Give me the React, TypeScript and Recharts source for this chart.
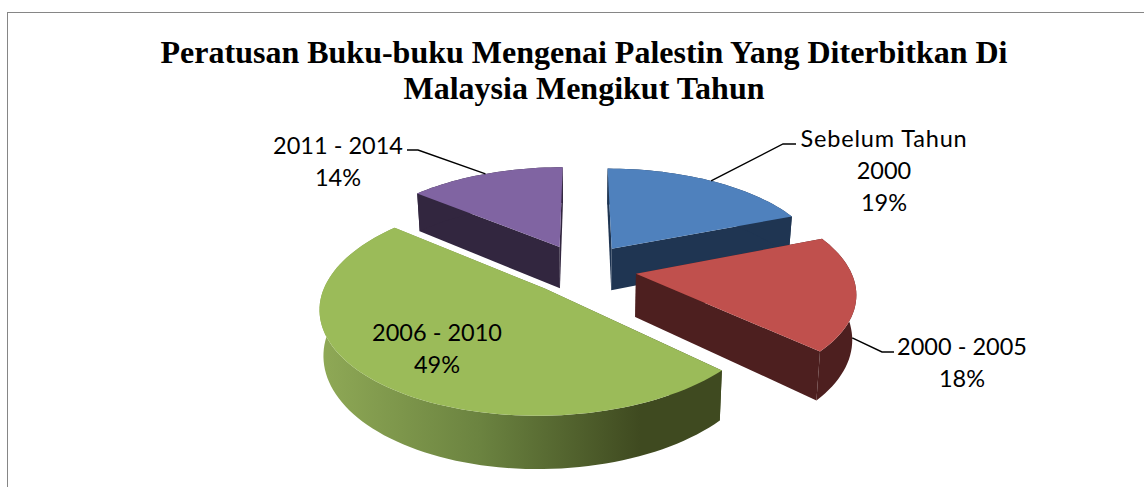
import React from "react";
import { PieChart, Pie } from "recharts";

const categories = ["Sebelum Tahun 2000", "2000 - 2005", "2006 - 2010", "2011 - 2014"];
const values = [19, 18, 49, 14];
const labelLines = [
  ["Sebelum Tahun", "2000", "19%"],
  ["2000 - 2005", "18%"],
  ["2006 - 2010", "49%"],
  ["2011 - 2014", "14%"],
];
const titleLines = [
  "Peratusan Buku-buku Mengenai Palestin Yang Diterbitkan Di",
  "Malaysia Mengikut Tahun",
];
const topColors = ["#4f81bd", "#c0504d", "#9bbb59", "#8064a2"];
const wallColors = ["#1f3552", "#4d1f1f", "url(#greenWall)", "#32263f"];
const labelCenters = [
  [884, 147],
  [962, 355],
  [437, 341],
  [338, 154],
];
const leaderPaths: (number[][] | null)[] = [
  [[783, 144], [796, 144]],
  [[882, 352], [894, 352]],
  null,
  [[418, 150], [407, 150]],
];
const leaderOnWall = [false, true, false, false];

const data = categories.map((name, i) => ({ name, value: values[i] }));

// Perspective camera fitted to the picture: vanishing point and disc scale.
const VX = 582;
const VY = -340;
const DIST = 609;
const SCALE = 214;
const PERSP = 0.163;
const EXPLODE = 0.255;
const DEPTH = 43;
const TAPER = 0.015;
const RAD = Math.PI / 180;

function project(x: number, d: number, z = 0): [number, number] {
  const w = 1 + PERSP * d;
  return [VX + ((SCALE * x) / w) * (1 - TAPER * z), VY + DIST / w + (z * DEPTH) / w];
}

function sliceGeometry(startAngle: number, endAngle: number) {
  const t0 = 90 - startAngle;
  const t1 = 90 - endAngle;
  const mid = ((t0 + t1) / 2) * RAD;
  const ax = EXPLODE * Math.sin(mid);
  const ad = EXPLODE * Math.cos(mid);
  const at = (deg: number, z = 0) =>
    project(ax + Math.sin(deg * RAD), ad + Math.cos(deg * RAD), z);
  const apex = (z = 0) => project(ax, ad, z);
  const degs: number[] = [];
  const n = Math.max(8, Math.ceil(Math.abs(t1 - t0) / 2));
  for (let i = 0; i <= n; i++) degs.push(t0 + ((t1 - t0) * i) / n);
  return { t0, t1, mid: (t0 + t1) / 2, at, apex, degs };
}

const toPath = (pts: [number, number][]) =>
  "M" + pts.map((p) => `${p[0].toFixed(2)},${p[1].toFixed(2)}`).join("L") + "Z";

function SliceShape(props: any) {
  const { startAngle, endAngle, index } = props;
  const g = sliceGeometry(startAngle, endAngle);
  const wall = wallColors[index];
  const top: [number, number][] = [g.apex(), ...g.degs.map((t) => g.at(t))];
  const rim: [number, number][] = [
    ...g.degs.map((t) => g.at(t)),
    ...[...g.degs].reverse().map((t) => g.at(t, 1)),
  ];
  const q0: [number, number][] = [g.apex(), g.at(g.t0), g.at(g.t0, 1), g.apex(1)];
  const q1: [number, number][] = [g.apex(), g.at(g.t1), g.at(g.t1, 1), g.apex(1)];
  return (
    <g>
      <defs>
        <linearGradient id="greenWall" gradientUnits="userSpaceOnUse" x1={321} y1={0} x2={640} y2={0}>
          <stop offset="0%" stopColor="#8fa956" />
          <stop offset="50%" stopColor="#6b8340" />
          <stop offset="100%" stopColor="#3f4a20" />
        </linearGradient>
      </defs>
      <path d={toPath(q0)} fill={wall} stroke="none" />
      <path d={toPath(q1)} fill={wall} stroke="none" />
      <path d={toPath(rim)} fill={wall} stroke="none" />
      <path d={toPath(top)} fill={topColors[index]} stroke="none" />
    </g>
  );
}

const labelFont = "Lato, Carlito, sans-serif";

function SliceLabel(props: any) {
  const { index, startAngle, endAngle } = props;
  const g = sliceGeometry(startAngle, endAngle);
  const [lx, ly] = labelCenters[index];
  const tail = leaderPaths[index];
  let d = "";
  if (tail) {
    const s = g.at(g.mid, leaderOnWall[index] ? 1 : 0);
    const pts = [s, ...tail];
    d = "M" + pts.map((p) => `${p[0]},${p[1]}`).join("L");
  }
  return (
    <g>
      {d && <path d={d} fill="none" stroke="#000" strokeWidth={1.4} />}
      {labelLines[index].map((t, i) => (
        <text
          key={i}
          x={lx}
          y={ly + i * 32}
          textAnchor="middle"
          fontFamily={labelFont}
          fontSize={23.5}
          letterSpacing={/[a-z]/.test(t) ? 0.85 : 0}
          fill="#000"
        >
          {t}
        </text>
      ))}
    </g>
  );
}

export default function App() {
  return (
    <div style={{ position: "absolute", left: 0, top: 0, width: 1144, height: 487, background: "#fff" }}>
      <div
        style={{
          position: "absolute",
          left: 7,
          top: 12,
          width: 1137,
          height: 475,
          boxSizing: "border-box",
          borderTop: "1.5px solid #868686",
          borderLeft: "1.5px solid #868686",
        }}
      />
      <div
        style={{
          position: "absolute",
          left: 0,
          width: 1168,
          top: 34,
          textAlign: "center",
          fontFamily: "'Liberation Serif', serif",
          fontWeight: "bold",
          fontSize: 32,
          lineHeight: "36px",
          color: "#000",
          whiteSpace: "nowrap",
        }}
      >
        {titleLines.map((t, i) => (
          <div key={i}>{t}</div>
        ))}
      </div>
      <div style={{ position: "absolute", left: 0, top: 0 }}>
        <PieChart width={1144} height={487} margin={{ top: 0, right: 0, bottom: 0, left: 0 }}>
          <Pie
            data={data}
            dataKey="value"
            nameKey="name"
            cx={VX}
            cy={269}
            outerRadius={SCALE}
            startAngle={90}
            endAngle={-270}
            isAnimationActive={false}
            shape={SliceShape}
            label={SliceLabel}
            labelLine={false}
            stroke="none"
          />
        </PieChart>
      </div>
    </div>
  );
}
